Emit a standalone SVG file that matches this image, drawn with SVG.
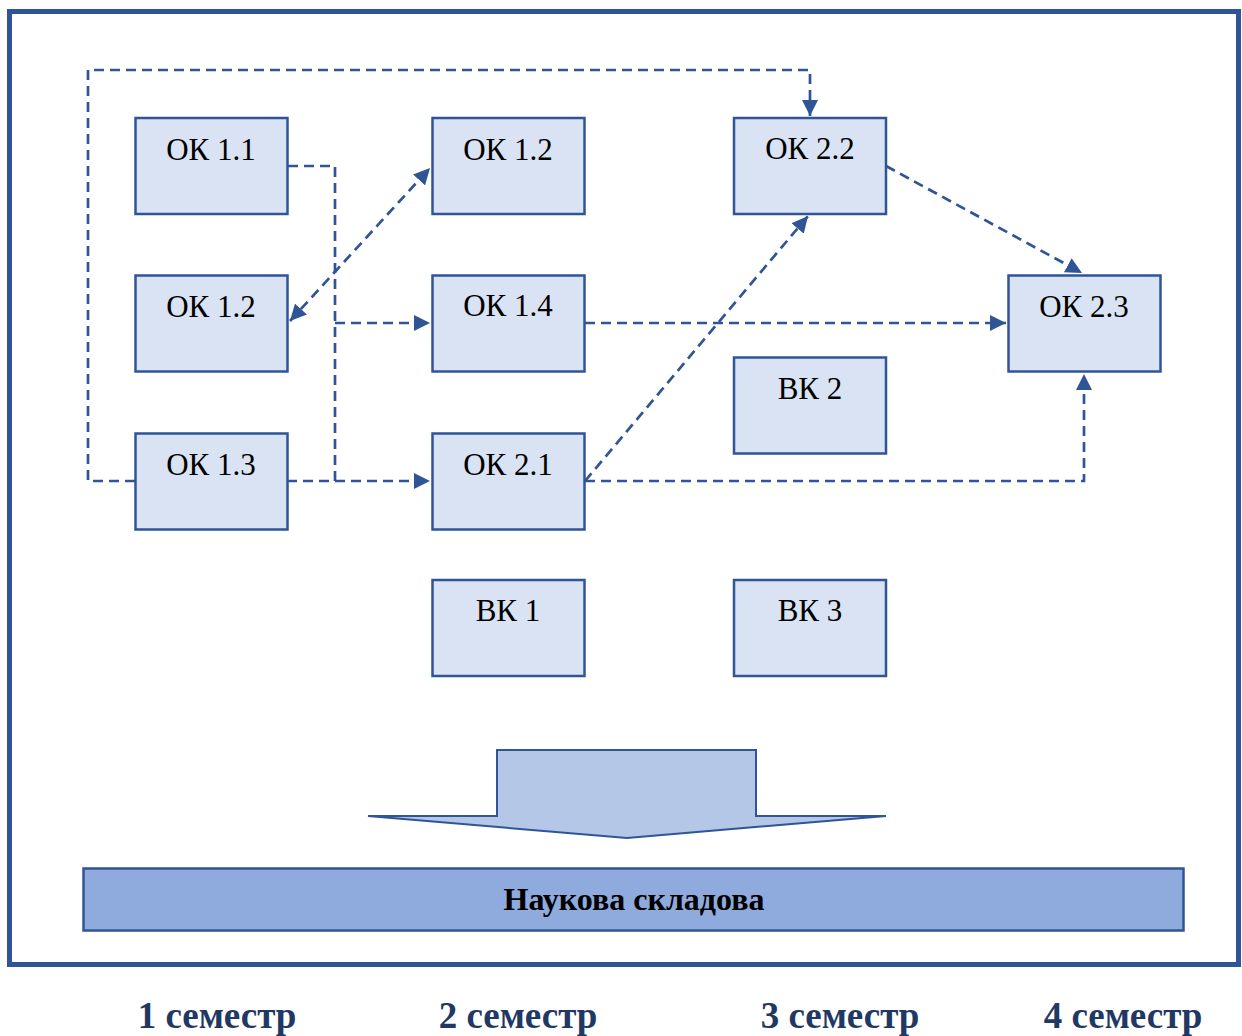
<svg xmlns="http://www.w3.org/2000/svg" width="1242" height="1036" viewBox="0 0 1242 1036">
<style>
.node rect{fill:#DAE3F3;stroke:#2F5597;stroke-width:2.5}
.node text{font-family:"Liberation Serif","DejaVu Serif",serif;font-size:31px;fill:#000;text-anchor:middle}
.c{fill:none;stroke:#2F5597;stroke-width:2.7;stroke-dasharray:10,6}
.sem{font-family:"Liberation Serif","DejaVu Serif",serif;font-size:37px;font-weight:bold;fill:#1F3864;text-anchor:middle}
</style>
<defs>
<marker id="ah" viewBox="0 0 10 10" refX="10" refY="5" markerWidth="6" markerHeight="6" orient="auto-start-reverse" markerUnits="strokeWidth">
<path d="M0,0 L10,5 L0,10 z" fill="#2F5597"/>
</marker>
</defs>
<rect x="9.5" y="11.5" width="1229" height="953" fill="#fff" stroke="#2F5597" stroke-width="5"/>
<g id="connectors">
<path class="c" d="M135,481 H88 V70 H810 V116" marker-end="url(#ah)"/>
<path class="c" d="M288,166 H335 V481 H288"/>
<path class="c" d="M335,323 H430" marker-end="url(#ah)"/>
<path class="c" d="M335,481 H430" marker-end="url(#ah)"/>
<path class="c" d="M290,321 L430,168" marker-start="url(#ah)" marker-end="url(#ah)"/>
<path class="c" d="M585,323 H1006" marker-end="url(#ah)"/>
<path class="c" d="M585,481 L808,216" marker-end="url(#ah)"/>
<path class="c" d="M585,481 H1084 V374" marker-end="url(#ah)"/>
<path class="c" d="M886,166 L1082,273" marker-end="url(#ah)"/>
</g>
<g id="ok11" class="node"><rect x="135.5" y="118" width="152" height="96"/><text x="211" y="160">ОК 1.1</text></g>
<g id="ok12b" class="node"><rect x="432.5" y="118" width="152" height="96"/><text x="508" y="160">ОК 1.2</text></g>
<g id="ok22" class="node"><rect x="734" y="118" width="152" height="96"/><text x="810" y="159">ОК 2.2</text></g>
<g id="ok12a" class="node"><rect x="135.5" y="275.5" width="152" height="96"/><text x="211" y="317">ОК 1.2</text></g>
<g id="ok14" class="node"><rect x="432.5" y="275.5" width="152" height="96"/><text x="508" y="316">ОК 1.4</text></g>
<g id="ok23" class="node"><rect x="1008.5" y="275.5" width="152" height="96"/><text x="1084" y="317">ОК 2.3</text></g>
<g id="vk2" class="node"><rect x="734" y="357.5" width="152" height="96"/><text x="810" y="399">ВК 2</text></g>
<g id="ok13" class="node"><rect x="135.5" y="433.5" width="152" height="96"/><text x="211" y="475">ОК 1.3</text></g>
<g id="ok21" class="node"><rect x="432.5" y="433.5" width="152" height="96"/><text x="508" y="475">ОК 2.1</text></g>
<g id="vk1" class="node"><rect x="432.5" y="580" width="152" height="96"/><text x="508" y="621">ВК 1</text></g>
<g id="vk3" class="node"><rect x="734" y="580" width="152" height="96"/><text x="810" y="621">ВК 3</text></g>
<g id="bigarrow"><polygon points="368,816 497,816 497,750 756,750 756,816 886,816 627,838" fill="#B4C7E7" stroke="#2F5597" stroke-width="2"/></g>
<g id="science"><rect x="83.5" y="868.5" width="1100" height="62" fill="#8FAADC" stroke="#2F5597" stroke-width="2.5"/>
<text x="634" y="910" font-family="'Liberation Serif','DejaVu Serif',serif" font-size="32" font-weight="bold" text-anchor="middle" fill="#000">Наукова складова</text></g>
<text class="sem" x="217" y="1028">1 семестр</text>
<text class="sem" x="518" y="1028">2 семестр</text>
<text class="sem" x="840" y="1028">3 семестр</text>
<text class="sem" x="1123" y="1028">4 семестр</text>
</svg>
